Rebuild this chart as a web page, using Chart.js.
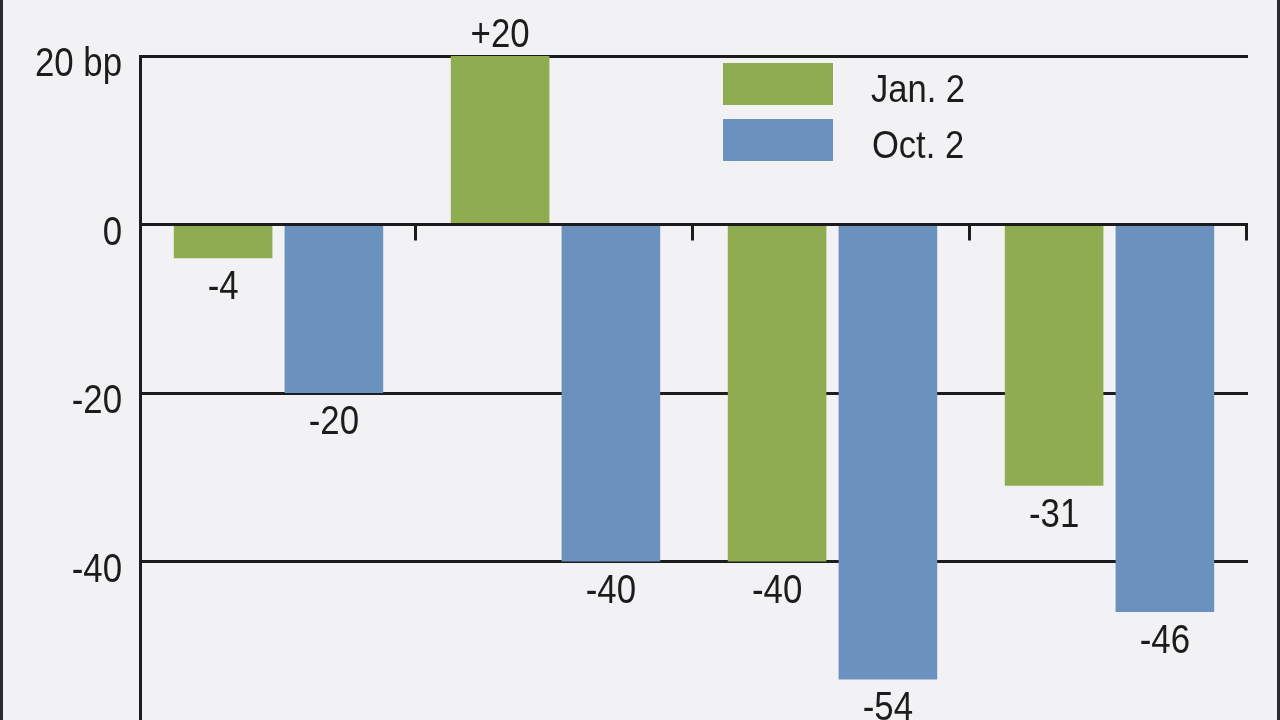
<!DOCTYPE html>
<html>
<head>
<meta charset="utf-8">
<script src="https://cdn.jsdelivr.net/npm/chart.js@4.4.1/dist/chart.umd.min.js"></script>
<style>
  html, body { margin: 0; padding: 0; background: #f2f2f4; overflow: hidden; width: 1280px; height: 720px; }
  #wrap { position: absolute; left: 0; top: 0; width: 1280px; height: 760px; }
  #frame { position: absolute; left: 0; top: 0; width: 1274px; height: 720px; border-left: 3px solid #2b2b2b; border-right: 3px solid #2b2b2b; pointer-events: none; }
</style>
</head>
<body>
<div id="wrap"><canvas id="c" width="1280" height="760"></canvas></div>
<div id="frame"></div>
<script>
const categories = ['Group 1', 'Group 2', 'Group 3', 'Group 4'];
const seriesNames = ['Jan. 2', 'Oct. 2'];
const jan2Values = [-4, 20, -40, -31];
const oct2Values = [-20, -40, -54, -46];
const yTickValues = [20, 0, -20, -40, -60];
const yTopLabel = '20 bp';

const FONT = "'Liberation Sans', Arial, sans-serif";
const GREEN = '#8fac50';
const BLUE = '#6b91bf';
const INK = '#1c1c1c';

// draw condensed text (horizontally squeezed) as real canvas text
function condensedText(ctx, txt, x, y, align, squeeze) {
  ctx.save();
  ctx.translate(x, y);
  ctx.scale(squeeze, 1);
  ctx.textAlign = align;
  ctx.fillText(txt, 0, 0);
  ctx.restore();
}

const yLabels = {
  id: 'yLabels',
  afterDraw(chart) {
    const ctx = chart.ctx;
    const ys = chart.scales.y;
    ctx.save();
    ctx.font = '40px ' + FONT;
    ctx.fillStyle = INK;
    ctx.textBaseline = 'alphabetic';
    ys.ticks.forEach(t => {
      const y = ys.getPixelForValue(t.value);
      const txt = t.value === yTickValues[0] ? yTopLabel : String(t.value);
      condensedText(ctx, txt, ys.right - 18, y + 20, 'right', 0.87);
    });
    ctx.restore();
  }
};

const valueLabels = {
  id: 'valueLabels',
  afterDatasetsDraw(chart) {
    const ctx = chart.ctx;
    ctx.save();
    ctx.font = '40px ' + FONT;
    ctx.fillStyle = INK;
    ctx.textBaseline = 'alphabetic';
    chart.data.datasets.forEach((ds, di) => {
      const meta = chart.getDatasetMeta(di);
      meta.data.forEach((bar, i) => {
        const v = ds.data[i];
        const txt = v > 0 ? '+' + v : String(v);
        const y = v >= 0 ? bar.y - 9 : bar.y + 41;
        condensedText(ctx, txt, bar.x, y, 'center', 0.87);
      });
    });
    ctx.restore();
  }
};

const zeroTicks = {
  id: 'zeroTicks',
  afterDatasetsDraw(chart) {
    const ctx = chart.ctx;
    const xs = chart.scales.x, ys = chart.scales.y;
    const y0 = ys.getPixelForValue(0);
    const half = (xs.getPixelForValue(1) - xs.getPixelForValue(0)) / 2;
    ctx.save();
    ctx.strokeStyle = INK;
    ctx.lineWidth = 3;
    categories.forEach((c, i) => {
      const x = Math.round(xs.getPixelForValue(i) + half) - 1.5;
      ctx.beginPath();
      ctx.moveTo(x, y0 - 1);
      ctx.lineTo(x, y0 + 16);
      ctx.stroke();
    });
    ctx.restore();
  }
};

const customLegend = {
  id: 'customLegend',
  afterDraw(chart) {
    const ctx = chart.ctx;
    const colors = [GREEN, BLUE];
    ctx.save();
    ctx.font = '38px ' + FONT;
    ctx.textBaseline = 'alphabetic';
    seriesNames.forEach((name, i) => {
      const top = 63 + i * 56;
      ctx.fillStyle = colors[i];
      ctx.fillRect(723, top, 110, 42);
      ctx.fillStyle = INK;
      condensedText(ctx, name, 918, top + 39, 'center', 0.91);
    });
    ctx.restore();
  }
};

new Chart(document.getElementById('c'), {
  type: 'bar',
  data: {
    labels: categories,
    datasets: [
      { label: seriesNames[0], data: jan2Values, backgroundColor: GREEN, borderWidth: 0 },
      { label: seriesNames[1], data: oct2Values, backgroundColor: BLUE, borderWidth: 0 }
    ]
  },
  options: {
    responsive: false,
    animation: false,
    devicePixelRatio: 1,
    layout: { padding: { top: 56, right: 32, bottom: 30, left: 0 } },
    plugins: { legend: { display: false }, tooltip: { enabled: false } },
    datasets: { bar: { categoryPercentage: 0.8, barPercentage: 0.89 } },
    scales: {
      x: {
        display: false,
        offset: true
      },
      y: {
        min: -60,
        max: 20,
        afterFit(scale) { scale.width = 140; },
        afterBuildTicks(scale) { scale.ticks = yTickValues.map(v => ({ value: v })); },
        grid: { color: INK, lineWidth: 3, drawTicks: false },
        border: { display: true, color: INK, width: 3 },
        ticks: { display: false }
      }
    }
  },
  plugins: [valueLabels, zeroTicks, customLegend, yLabels]
});
</script>
</body>
</html>
